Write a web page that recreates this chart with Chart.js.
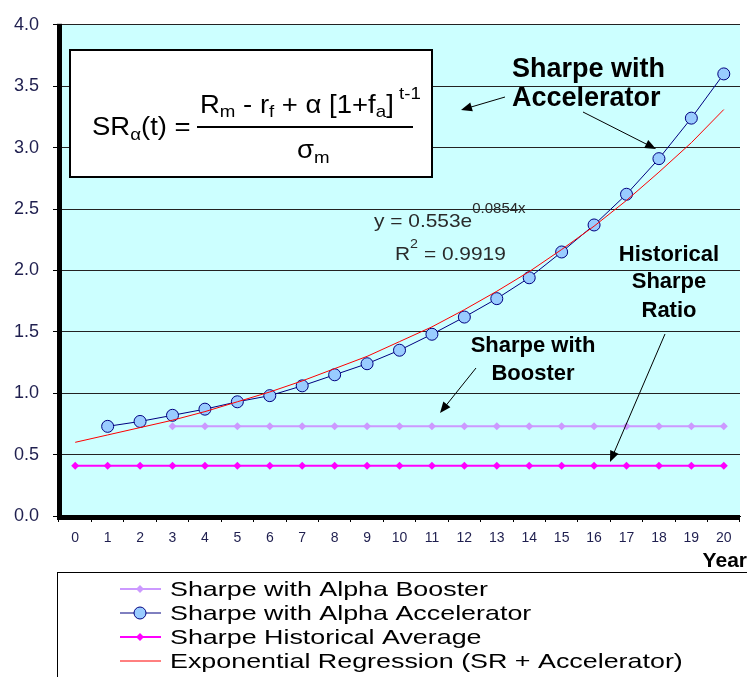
<!DOCTYPE html>
<html>
<head>
<meta charset="utf-8">
<script src="https://cdn.jsdelivr.net/npm/chart.js@4"></script>
<style>
  body { margin: 0; background: #fff; }
  canvas { display: block; }
</style>
</head>
<body>
<canvas id="chart" width="747" height="677"></canvas>
<script>
// Data
const years = ['0', '1', '2', '3', '4', '5', '6', '7', '8', '9', '10', '11', '12', '13', '14', '15', '16', '17', '18', '19', '20'];
const boosterSR = [null, null, null, 0.73, 0.73, 0.73, 0.73, 0.73, 0.73, 0.73, 0.73, 0.73, 0.73, 0.73, 0.73, 0.73, 0.73, 0.73, 0.73, 0.73, 0.73];
const acceleratorSR = [null, 0.73, 0.77, 0.82, 0.87, 0.93, 0.98, 1.06, 1.15, 1.24, 1.35, 1.48, 1.62, 1.77, 1.94, 2.15, 2.37, 2.62, 2.91, 3.24, 3.60];
const historicalSR = [0.41, 0.41, 0.41, 0.41, 0.41, 0.41, 0.41, 0.41, 0.41, 0.41, 0.41, 0.41, 0.41, 0.41, 0.41, 0.41, 0.41, 0.41, 0.41, 0.41, 0.41];
const regressionSR = [0.60, 0.66, 0.72, 0.78, 0.85, 0.93, 1.01, 1.10, 1.20, 1.30, 1.42, 1.54, 1.68, 1.83, 1.99, 2.17, 2.36, 2.57, 2.80, 3.04, 3.31];
const legendLabels = ['Sharpe with Alpha Booster', 'Sharpe with Alpha Accelerator', 'Sharpe Historical Average', 'Exponential Regression (SR + Accelerator)'];

const FONT = 'Arial, "Liberation Sans", sans-serif';
const colors = {
  booster: '#cc99ff',
  accel: '#000080',
  accelFill: '#99ccff',
  hist: '#ff00ff',
  trend: '#ff0000',
  plot: '#ccffff',
  tick: '#1f1f4f',
};

// текст с горизонтальным растяжением
function drawText(ctx, str, x, y, font, opts = {}) {
  ctx.save();
  ctx.font = font;
  ctx.fillStyle = opts.color || '#000';
  ctx.textBaseline = 'alphabetic';
  const sx = opts.sx || 1;
  const w = ctx.measureText(str).width * sx;
  let x0 = x;
  if (opts.align === 'center') x0 = x - w / 2;
  if (opts.align === 'right') x0 = x - w;
  ctx.translate(x0, y);
  ctx.scale(sx, 1);
  ctx.fillText(str, 0, 0);
  ctx.restore();
  return w;
}

// последовательность кусков текста (для формулы с индексами)
function drawPieces(ctx, pieces, x, y, sx) {
  let cx = x;
  pieces.forEach(([str, size, dy]) => {
    cx += drawText(ctx, str, cx, y + dy, `${size}px ${FONT}`, { sx });
  });
}

function arrow(ctx, x1, y1, x2, y2) {
  const a = Math.atan2(y2 - y1, x2 - x1);
  const len = 11, half = 4.5;
  ctx.save();
  ctx.strokeStyle = '#000';
  ctx.fillStyle = '#000';
  ctx.lineWidth = 1;
  ctx.beginPath();
  ctx.moveTo(x1, y1);
  ctx.lineTo(x2 - Math.cos(a) * len * 0.8, y2 - Math.sin(a) * len * 0.8);
  ctx.stroke();
  ctx.beginPath();
  ctx.moveTo(x2, y2);
  ctx.lineTo(x2 - Math.cos(a) * len - Math.sin(a) * half, y2 - Math.sin(a) * len + Math.cos(a) * half);
  ctx.lineTo(x2 - Math.cos(a) * len + Math.sin(a) * half, y2 - Math.sin(a) * len - Math.cos(a) * half);
  ctx.closePath();
  ctx.fill();
  ctx.restore();
}

const plotBackground = {
  id: 'plotBackground',
  beforeDraw(chart) {
    const { ctx, chartArea: a } = chart;
    ctx.save();
    ctx.fillStyle = colors.plot;
    ctx.fillRect(a.left, a.top, a.right - a.left, a.bottom - a.top);
    ctx.restore();
  },
};

const annotations = {
  id: 'annotations',
  afterDatasetsDraw(chart) {
    const ctx = chart.ctx;
    const a = chart.chartArea;

    // толстые оси
    ctx.save();
    ctx.fillStyle = '#000';
    ctx.fillRect(a.left - 2, a.top - 1, 5, a.bottom - a.top + 4);
    ctx.fillRect(a.left - 2, a.bottom - 1, a.right - a.left + 2, 5);
    ctx.restore();

    // formula box
    ctx.save();
    ctx.fillStyle = '#fff';
    ctx.fillRect(70, 50, 362, 127);
    ctx.strokeStyle = '#000';
    ctx.lineWidth = 2;
    ctx.strokeRect(70, 50, 362, 127);
    ctx.restore();

    const sx = 1.1;
    drawPieces(ctx, [['SR', 25, 0], ['α', 17, 5], ['(t) =', 25, 0]], 92, 135, sx);
    drawPieces(ctx, [['R', 25, 0], ['m', 17, 4], [' - r', 25, 0], ['f', 17, 4], [' + α [1+f', 25, 0], ['a', 17, 4], [']', 25, 0], [' t-1', 17, -14]], 200, 113, sx);
    ctx.save();
    ctx.fillStyle = '#000';
    ctx.fillRect(197, 126, 216, 2);
    ctx.restore();
    drawPieces(ctx, [['σ', 25, 0], ['m', 17, 5]], 297, 158, sx);

    // regression text
    const w = drawText(ctx, 'y = 0.553e', 374, 227, `19px ${FONT}`, { color: '#2a2a2a', sx: 1.1 });
    drawText(ctx, '0.0854x', 374 + w, 213, `15px ${FONT}`, { color: '#2a2a2a', sx: 1.0 });
    const w2 = drawText(ctx, 'R', 395, 260, `19px ${FONT}`, { color: '#2a2a2a', sx: 1.1 });
    drawText(ctx, '2', 395 + w2, 248, `13px ${FONT}`, { color: '#2a2a2a', sx: 1.1 });
    drawText(ctx, ' = 0.9919', 395 + w2 + 8, 260, `19px ${FONT}`, { color: '#2a2a2a', sx: 1.1 });

    // bold labels
    drawText(ctx, 'Sharpe with', 512, 77, `bold 27px ${FONT}`);
    drawText(ctx, 'Accelerator', 512, 106, `bold 27px ${FONT}`);
    drawText(ctx, 'Historical', 669, 261, `bold 22px ${FONT}`, { align: 'center' });
    drawText(ctx, 'Sharpe', 669, 288, `bold 22px ${FONT}`, { align: 'center' });
    drawText(ctx, 'Ratio', 669, 317, `bold 22px ${FONT}`, { align: 'center' });
    drawText(ctx, 'Sharpe with', 533, 352, `bold 22px ${FONT}`, { align: 'center' });
    drawText(ctx, 'Booster', 533, 380, `bold 22px ${FONT}`, { align: 'center' });

    arrow(ctx, 505, 97, 461, 110);
    arrow(ctx, 583, 112, 656, 149);
    arrow(ctx, 476, 368, 440, 413);
    arrow(ctx, 665, 334, 610, 462);
  },
  afterDraw(chart) {
    const ctx = chart.ctx;
    drawText(ctx, 'Year', 747, 567, `bold 21px ${FONT}`, { align: 'right' });

    // legend box
    ctx.save();
    ctx.strokeStyle = '#000';
    ctx.lineWidth = 1;
    ctx.strokeRect(57.5, 572.5, 720, 120);
    ctx.restore();

    ctx.save();
    ctx.font = `21px ${FONT}`;
    const lsx = 318 / ctx.measureText(legendLabels[0]).width;
    ctx.restore();

    const styles = [
      { color: colors.booster, marker: 'diamond', fill: colors.booster },
      { color: colors.accel, marker: 'circle', fill: colors.accelFill },
      { color: colors.hist, marker: 'diamond', fill: colors.hist },
      { color: colors.trend, marker: null },
    ];
    legendLabels.forEach((label, i) => {
      const base = 596 + i * 24;
      const cy = base - 7;
      const st = styles[i];
      ctx.save();
      ctx.strokeStyle = st.color;
      ctx.lineWidth = (i === 0 || i === 2) ? 2 : 1;
      ctx.beginPath();
      ctx.moveTo(120, cy);
      ctx.lineTo(161, cy);
      ctx.stroke();
      if (st.marker === 'diamond') {
        ctx.fillStyle = st.fill;
        ctx.beginPath();
        ctx.moveTo(140, cy - 4);
        ctx.lineTo(144, cy);
        ctx.lineTo(140, cy + 4);
        ctx.lineTo(136, cy);
        ctx.closePath();
        ctx.fill();
      } else if (st.marker === 'circle') {
        ctx.fillStyle = st.fill;
        ctx.beginPath();
        ctx.arc(140, cy, 6, 0, Math.PI * 2);
        ctx.fill();
        ctx.lineWidth = 1;
        ctx.stroke();
      }
      ctx.restore();
      drawText(ctx, label, 170, base, `21px ${FONT}`, { sx: lsx });
    });
  },
};

const ctx = document.getElementById('chart').getContext('2d');
new Chart(ctx, {
  type: 'line',
  data: {
    labels: years,
    datasets: [
      {
        label: legendLabels[3],
        data: regressionSR,
        borderColor: colors.trend,
        borderWidth: 1,
        pointRadius: 0,
        order: 0,
      },
      {
        label: legendLabels[1],
        data: acceleratorSR,
        borderColor: colors.accel,
        backgroundColor: colors.accelFill,
        pointBorderColor: colors.accel,
        pointBackgroundColor: colors.accelFill,
        borderWidth: 1,
        pointRadius: 6,
        pointBorderWidth: 1,
        order: 1,
      },
      {
        label: legendLabels[2],
        data: historicalSR,
        borderColor: colors.hist,
        backgroundColor: colors.hist,
        borderWidth: 2,
        pointStyle: 'rectRot',
        pointRadius: 4,
        pointBorderWidth: 0,
        order: 2,
      },
      {
        label: legendLabels[0],
        data: boosterSR,
        borderColor: colors.booster,
        backgroundColor: colors.booster,
        borderWidth: 2,
        pointStyle: 'rectRot',
        pointRadius: 4,
        pointBorderWidth: 0,
        order: 3,
      },
    ],
  },
  options: {
    animation: false,
    responsive: false,
    events: [],
    layout: { padding: { top: 19, right: 0, bottom: 131, left: 0 } },
    plugins: { legend: { display: false }, tooltip: { enabled: false } },
    scales: {
      x: {
        offset: true,
        grid: { offset: true, drawOnChartArea: false, drawTicks: true, tickLength: 6, color: '#000' },
        border: { color: '#000', width: 1 },
        ticks: { color: colors.tick, font: { family: FONT, size: 14 }, padding: 8, maxRotation: 0, autoSkip: false },
        afterFit: (scale) => { scale.height = 30; },
      },
      y: {
        min: 0,
        max: 4,
        grid: { color: '#222', lineWidth: 1, tickLength: 6, tickColor: '#000' },
        border: { color: '#000', width: 1 },
        ticks: {
          stepSize: 0.5,
          color: colors.tick,
          font: { family: FONT, size: 18 },
          padding: 14,
          callback: (v) => v.toFixed(1),
        },
        afterFit: (scale) => { scale.width = 59; },
      },
    },
  },
  plugins: [plotBackground, annotations],
});
</script>
</body>
</html>
